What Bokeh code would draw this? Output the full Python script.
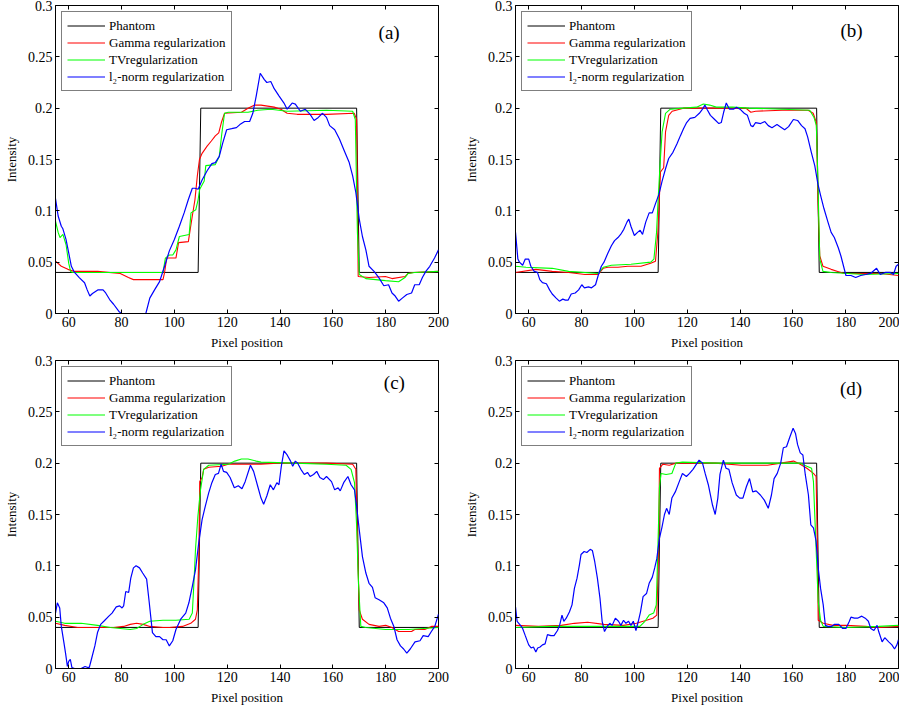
from bokeh.plotting import figure
from bokeh.models import Range1d, FixedTicker, LinearAxis, Legend, LegendItem, Label, CustomLabelingPolicy
from bokeh.layouts import gridplot
from bokeh.embed import file_html
from bokeh.resources import INLINE

# ---------------- data ----------------
x_ticks = [60, 80, 100, 120, 140, 160, 180, 200]
y_ticks = [0, 0.05, 0.1, 0.15, 0.2, 0.25, 0.3]
y_tick_labels = ["0", "0.05", "0.1", "0.15", "0.2", "0.25", "0.3"]
series_names = ["Phantom", "Gamma regularization", "TVregularization", "l\u2082-norm regularization"]
panel_tags = ["(a)", "(b)", "(c)", "(d)"]

phantom_x = [55, 109, 110, 169, 170, 200]
phantom_y = [0.04, 0.04, 0.2, 0.2, 0.04, 0.04]

# ---- panel (a)
a_blue_x = [55, 56, 57.2, 57.8, 59, 60, 61, 62.2, 64, 66, 67, 68, 69, 71, 73, 74, 75.5, 77, 79, 80, 82, 84.5, 87, 89.2, 90.7, 92.5, 94.4, 96.3, 98.1, 100, 101.9, 103.7, 105.3, 106.8, 107.8, 109, 110.5, 112.4, 114.2, 115.5, 117, 118.3, 119.8, 121.7, 123.5, 124.8, 126.6, 128.5, 129.7, 131, 132.5, 134, 135, 136.5, 137.8, 139.6, 141.5, 142.7, 144.6, 145.8, 147.7, 149.5, 151.4, 152.9, 154.5, 156.1, 157.6, 158.8, 160.7, 162.5, 164.4, 166.2, 167.5, 168.7, 170, 171.2, 172.5, 173.7, 175.6, 177.4, 179.3, 181.1, 182.4, 183.6, 184.9, 186.3, 188, 189.8, 191, 192.7, 193.9, 195.2, 196.7, 198.5, 200]
a_blue_y = [0.112, 0.095, 0.085, 0.0825, 0.072, 0.059, 0.046, 0.040, 0.035, 0.030, 0.023, 0.017, 0.0195, 0.023, 0.023, 0.020, 0.0136, 0.009, 0.002, 0.0, -0.008, -0.012, -0.008, 0.0, 0.015, 0.023, 0.031, 0.046, 0.061, 0.072, 0.085, 0.098, 0.111, 0.122, 0.122, 0.121, 0.130, 0.139, 0.146, 0.147, 0.153, 0.166, 0.179, 0.180, 0.181, 0.184, 0.187, 0.187, 0.195, 0.212, 0.234, 0.228, 0.225, 0.226, 0.219, 0.212, 0.205, 0.199, 0.205, 0.204, 0.197, 0.199, 0.194, 0.188, 0.191, 0.195, 0.191, 0.183, 0.179, 0.170, 0.158, 0.147, 0.134, 0.118, 0.092, 0.075, 0.062, 0.046, 0.041, 0.035, 0.027, 0.028, 0.020, 0.017, 0.012, 0.015, 0.0185, 0.020, 0.028, 0.028, 0.035, 0.041, 0.046, 0.054, 0.062]
a_red_x = [55, 57.2, 59.7, 62.2, 71, 79.5, 82.6, 84.5, 95.7, 96.3, 97.1, 100.6, 101.6, 105.3, 106, 106.8, 107.8, 108.7, 109.5, 110.5, 112.4, 114, 115.5, 116.8, 117.8, 119, 125.4, 127.9, 130.4, 132.8, 137.8, 140.3, 142.7, 146.5, 157.6, 168.1, 169, 169.6, 173.7, 179.9, 182.4, 187.3, 188.5, 190.4, 200]
a_red_y = [0.051, 0.046, 0.043, 0.041, 0.041, 0.039, 0.035, 0.033, 0.033, 0.040, 0.054, 0.054, 0.069, 0.070, 0.082, 0.095, 0.111, 0.134, 0.150, 0.156, 0.163, 0.168, 0.173, 0.176, 0.186, 0.195, 0.196, 0.200, 0.203, 0.203, 0.201, 0.199, 0.195, 0.194, 0.194, 0.195, 0.189, 0.036, 0.035, 0.036, 0.034, 0.036, 0.039, 0.040, 0.041]
a_green_x = [55, 56, 56.7, 57.8, 59, 60, 60.7, 61.6, 95.7, 96.6, 98.1, 99.4, 100.6, 101.9, 105.6, 106.3, 108.1, 109, 109.6, 111.3, 111.9, 115.5, 117, 118, 119, 120.4, 127.9, 131.6, 136.5, 142.7, 157.6, 167.5, 168.5, 169.3, 170, 172.5, 179.9, 184.9, 187.3, 188.5, 191, 200]
a_green_y = [0.090, 0.079, 0.074, 0.077, 0.067, 0.049, 0.041, 0.040, 0.040, 0.054, 0.057, 0.057, 0.062, 0.075, 0.077, 0.098, 0.101, 0.111, 0.121, 0.129, 0.144, 0.145, 0.153, 0.176, 0.195, 0.196, 0.196, 0.198, 0.199, 0.197, 0.198, 0.197, 0.189, 0.079, 0.038, 0.034, 0.032, 0.031, 0.035, 0.039, 0.040, 0.041]

# ---- panel (b)
b_blue_x = [55, 55.9, 56.5, 57.7, 58.7, 60, 60.8, 62.1, 63.3, 64.2, 65.2, 66.7, 67.9, 68.9, 70.4, 71.6, 72.9, 73.9, 74.9, 76.1, 77.6, 78.9, 80.1, 81.1, 82.6, 83.8, 85.3, 86.3, 87.5, 88.5, 90, 91.3, 92.5, 93.8, 94.8, 96, 97.2, 97.9, 98.7, 100, 101.2, 102.2, 103.1, 104.3, 105.6, 106.8, 108, 109.3, 110.5, 111.8, 113, 114.6, 116.1, 117.4, 118.6, 119.8, 121.1, 122.9, 124.6, 125.8, 126.7, 127.5, 128.8, 130.4, 132, 132.9, 133.8, 134.8, 136, 137.5, 138.7, 140, 141.6, 142.8, 144.1, 144.9, 145.9, 147.8, 149.4, 150.7, 152.1, 154, 155.2, 156.9, 158.4, 160.2, 161.8, 163.3, 164.6, 165.6, 167, 168.3, 169.5, 170.5, 171.8, 173.3, 174.5, 175.7, 177.2, 178.2, 179.2, 180.1, 182, 183.8, 185.7, 187.6, 189.4, 191.7, 193.1, 195, 196.9, 198.1, 199.1, 200]
b_blue_y = [0.079, 0.053, 0.050, 0.047, 0.053, 0.053, 0.046, 0.041, 0.040, 0.033, 0.030, 0.029, 0.023, 0.019, 0.015, 0.012, 0.014, 0.013, 0.013, 0.019, 0.020, 0.023, 0.028, 0.025, 0.026, 0.025, 0.028, 0.037, 0.046, 0.050, 0.059, 0.066, 0.071, 0.074, 0.077, 0.082, 0.089, 0.092, 0.085, 0.076, 0.079, 0.081, 0.077, 0.089, 0.098, 0.098, 0.107, 0.116, 0.129, 0.141, 0.151, 0.157, 0.165, 0.173, 0.180, 0.186, 0.190, 0.191, 0.195, 0.199, 0.203, 0.199, 0.193, 0.189, 0.185, 0.186, 0.196, 0.205, 0.199, 0.199, 0.201, 0.199, 0.195, 0.193, 0.183, 0.182, 0.186, 0.185, 0.187, 0.183, 0.181, 0.184, 0.182, 0.179, 0.182, 0.189, 0.188, 0.183, 0.180, 0.172, 0.157, 0.144, 0.126, 0.115, 0.102, 0.089, 0.079, 0.074, 0.064, 0.056, 0.046, 0.037, 0.037, 0.035, 0.037, 0.038, 0.039, 0.044, 0.038, 0.040, 0.040, 0.038, 0.046, 0.048]
b_red_x = [55, 62.7, 68.9, 75.1, 81.3, 86.3, 88.2, 90, 93.8, 97.5, 102.5, 106.2, 108, 108.9, 109.9, 111.1, 111.8, 113, 114.3, 118.6, 126.1, 131, 137.2, 142.2, 144.1, 145.9, 155.9, 165.8, 167.7, 168.9, 169.5, 170.2, 171.4, 174.5, 177, 179.5, 187, 193.1, 200]
b_red_y = [0.040, 0.043, 0.041, 0.040, 0.038, 0.038, 0.044, 0.045, 0.045, 0.046, 0.046, 0.049, 0.051, 0.079, 0.138, 0.142, 0.177, 0.193, 0.197, 0.200, 0.200, 0.200, 0.200, 0.200, 0.196, 0.197, 0.198, 0.198, 0.195, 0.186, 0.111, 0.056, 0.046, 0.043, 0.041, 0.039, 0.039, 0.039, 0.037]
b_green_x = [55, 59, 68.9, 75.1, 86.3, 88.2, 91.3, 98.7, 106.2, 107.4, 108.4, 109, 109.7, 110.5, 111.8, 113.6, 118.6, 123.6, 126.1, 128.5, 131, 137.2, 143.4, 155.9, 166.4, 168, 168.9, 169.5, 170.2, 171.4, 174.5, 187, 200]
b_green_y = [0.046, 0.045, 0.044, 0.041, 0.039, 0.045, 0.047, 0.048, 0.050, 0.053, 0.079, 0.111, 0.144, 0.177, 0.195, 0.199, 0.200, 0.201, 0.204, 0.203, 0.201, 0.201, 0.200, 0.199, 0.198, 0.191, 0.183, 0.128, 0.053, 0.041, 0.040, 0.038, 0.039]

# ---- panel (c)
c_blue_x = [55, 55.7, 56.6, 57.2, 58.2, 58.8, 59.5, 60, 60.6, 61.2, 62.2, 64.7, 66.2, 67.2, 67.8, 68.6, 69.9, 70.9, 72.1, 73.3, 75.2, 76.4, 78, 79.3, 80.2, 80.8, 81.6, 82.7, 83.5, 84.5, 85.5, 86.8, 88, 89.5, 90.5, 91.7, 93, 94.4, 95.7, 96.9, 98.1, 99.4, 100.6, 102.4, 104.3, 105.5, 106.8, 108, 109.2, 110.5, 111.7, 113, 114.2, 115.5, 116.7, 117.7, 118.6, 119.8, 121.1, 122.7, 124.2, 125.6, 126.8, 128.8, 130, 131.5, 132.8, 133.8, 135, 136.3, 137.5, 138.8, 139.6, 140.5, 141.5, 142.7, 144, 144.8, 145.8, 146.7, 147.9, 149.2, 150.4, 151.4, 152.7, 153.9, 155.1, 156.4, 157.6, 159.5, 160.7, 162, 162.8, 164.1, 165.7, 166.9, 168.2, 169, 170, 171.2, 172.5, 173.7, 175, 176, 177.5, 179.3, 180.6, 181.8, 183.1, 184.3, 185.6, 186.8, 188, 189.3, 191.1, 193, 194.2, 196.1, 197.3, 198.6, 200]
c_blue_y = [0.054, 0.064, 0.059, 0.041, 0.025, 0.015, 0.002, 0.007, 0.009, 0.001, 0.0, 0.0, 0.002, 0.001, 0.001, 0.009, 0.022, 0.035, 0.043, 0.046, 0.051, 0.054, 0.060, 0.061, 0.059, 0.061, 0.075, 0.074, 0.088, 0.098, 0.100, 0.098, 0.093, 0.087, 0.064, 0.035, 0.031, 0.031, 0.028, 0.028, 0.022, 0.027, 0.038, 0.048, 0.054, 0.064, 0.080, 0.096, 0.122, 0.145, 0.158, 0.171, 0.181, 0.189, 0.190, 0.199, 0.192, 0.191, 0.186, 0.176, 0.178, 0.175, 0.182, 0.198, 0.192, 0.178, 0.166, 0.160, 0.168, 0.179, 0.174, 0.181, 0.179, 0.197, 0.212, 0.208, 0.202, 0.197, 0.202, 0.200, 0.194, 0.189, 0.191, 0.187, 0.189, 0.192, 0.186, 0.184, 0.187, 0.182, 0.174, 0.176, 0.173, 0.181, 0.187, 0.179, 0.174, 0.158, 0.135, 0.109, 0.093, 0.083, 0.079, 0.069, 0.067, 0.064, 0.059, 0.049, 0.041, 0.028, 0.022, 0.019, 0.015, 0.019, 0.026, 0.027, 0.032, 0.031, 0.036, 0.041, 0.053]
c_red_x = [55, 58.5, 63.4, 70.9, 77.1, 80.8, 83.3, 85.7, 88.2, 90.7, 95.7, 98.1, 103.1, 106.2, 108, 108.7, 109.3, 109.6, 110.5, 111.1, 113, 117.9, 120.4, 132.8, 139, 157.6, 167.5, 168.7, 169.4, 170, 171.2, 173.7, 177.5, 180, 182.4, 184.9, 187.3, 189.8, 191, 194.8, 197.3, 200]
c_red_y = [0.044, 0.042, 0.040, 0.040, 0.040, 0.041, 0.043, 0.044, 0.043, 0.041, 0.040, 0.040, 0.041, 0.044, 0.048, 0.057, 0.116, 0.182, 0.186, 0.194, 0.196, 0.197, 0.199, 0.199, 0.200, 0.200, 0.199, 0.194, 0.116, 0.057, 0.048, 0.043, 0.041, 0.042, 0.040, 0.036, 0.036, 0.036, 0.038, 0.038, 0.041, 0.041]
c_green_x = [55, 58.5, 64.7, 70.9, 75.8, 83.3, 85.7, 88.2, 90.7, 95.7, 100.6, 105.6, 106.8, 107.4, 108, 108.9, 109.9, 111.1, 113, 120.4, 122.9, 125.4, 127.9, 131, 132.8, 145.2, 157.6, 165, 166.9, 168.2, 169, 169.7, 170.6, 172.5, 180, 188.6, 200]
c_green_y = [0.046, 0.044, 0.044, 0.042, 0.040, 0.038, 0.039, 0.043, 0.046, 0.047, 0.047, 0.048, 0.054, 0.083, 0.116, 0.148, 0.174, 0.194, 0.198, 0.199, 0.202, 0.204, 0.204, 0.202, 0.201, 0.200, 0.199, 0.198, 0.194, 0.181, 0.139, 0.083, 0.041, 0.040, 0.038, 0.038, 0.040]

# ---- panel (d)
d_blue_x = [55, 55.6, 56.9, 57.7, 58.7, 60, 60.9, 61.8, 62.7, 63.4, 64.3, 65.2, 66.2, 67.1, 68.4, 69.6, 70.9, 71.7, 72.6, 73.3, 74.2, 75.4, 76.4, 77.3, 78.3, 79.2, 79.8, 81, 82, 83.3, 84.1, 85, 86, 87, 87.8, 88.7, 89.7, 90.7, 91.6, 92.8, 94, 94.9, 95.9, 96.8, 97.8, 98.7, 99.6, 100.6, 101.5, 102.3, 103.3, 104.6, 105.6, 106.8, 107.7, 108.5, 109.5, 110.4, 111.4, 112.2, 113.2, 114.2, 115.5, 117, 118.2, 119.7, 120.9, 122.2, 123.5, 124.5, 125.8, 126.8, 128, 129.6, 130.6, 131.6, 132.4, 133.7, 134.7, 135.8, 137, 138.6, 139.9, 141.1, 142.4, 143.6, 144.8, 146.1, 147.7, 149.2, 150.7, 151.9, 152.9, 154.1, 155.4, 156.4, 157.6, 158.8, 160.1, 161, 161.8, 162.8, 163.8, 164.7, 165.9, 166.8, 167.8, 168.8, 169.6, 170.5, 171.5, 172.3, 173.3, 174.6, 175.8, 177.4, 178.9, 180.1, 181.4, 182, 183.3, 184.5, 186.1, 187.4, 188.6, 189.5, 190.7, 191.9, 192.5, 193.8, 194.8, 196.3, 197.5, 198.5, 199.4, 200]
d_blue_y = [0.060, 0.046, 0.042, 0.039, 0.032, 0.023, 0.020, 0.021, 0.016, 0.020, 0.021, 0.023, 0.024, 0.033, 0.032, 0.032, 0.037, 0.042, 0.052, 0.046, 0.049, 0.055, 0.062, 0.078, 0.088, 0.101, 0.111, 0.114, 0.113, 0.116, 0.115, 0.104, 0.088, 0.068, 0.046, 0.036, 0.041, 0.044, 0.042, 0.049, 0.046, 0.042, 0.047, 0.044, 0.046, 0.042, 0.046, 0.037, 0.046, 0.055, 0.070, 0.073, 0.083, 0.089, 0.098, 0.107, 0.127, 0.137, 0.150, 0.156, 0.150, 0.166, 0.172, 0.182, 0.190, 0.187, 0.190, 0.194, 0.199, 0.203, 0.200, 0.190, 0.179, 0.159, 0.150, 0.166, 0.189, 0.203, 0.195, 0.194, 0.181, 0.169, 0.166, 0.166, 0.177, 0.185, 0.172, 0.173, 0.169, 0.164, 0.156, 0.169, 0.185, 0.190, 0.200, 0.215, 0.216, 0.225, 0.234, 0.229, 0.218, 0.210, 0.208, 0.189, 0.169, 0.140, 0.137, 0.124, 0.098, 0.078, 0.062, 0.042, 0.041, 0.041, 0.043, 0.043, 0.039, 0.039, 0.046, 0.050, 0.049, 0.049, 0.051, 0.049, 0.046, 0.039, 0.037, 0.042, 0.036, 0.026, 0.030, 0.026, 0.023, 0.019, 0.023, 0.028]
d_red_x = [55, 63.7, 72.3, 77.3, 82.3, 88.5, 95.9, 100.8, 104.6, 107, 108.5, 109.2, 109.5, 110.8, 113.2, 115.7, 124.4, 130.6, 140.5, 150.4, 155.4, 160.3, 162.8, 165.3, 167.8, 168.8, 169.3, 169.6, 171.5, 175.2, 180.1, 187.5, 192.5, 200]
d_red_y = [0.042, 0.041, 0.042, 0.044, 0.045, 0.043, 0.042, 0.044, 0.047, 0.049, 0.052, 0.117, 0.195, 0.199, 0.198, 0.200, 0.200, 0.200, 0.198, 0.198, 0.200, 0.202, 0.199, 0.195, 0.190, 0.187, 0.117, 0.047, 0.044, 0.042, 0.042, 0.041, 0.040, 0.041]
d_green_x = [55, 68.6, 81, 93.4, 102.1, 104, 105.6, 107.3, 108.3, 108.9, 109.5, 110.1, 112, 114.2, 115.7, 118.2, 130.6, 143, 155.4, 162.8, 165.3, 167.1, 167.8, 168.8, 169.6, 170.5, 171.5, 180.1, 192.5, 200]
d_green_y = [0.040, 0.041, 0.041, 0.041, 0.041, 0.046, 0.052, 0.054, 0.062, 0.117, 0.176, 0.190, 0.189, 0.190, 0.200, 0.201, 0.200, 0.200, 0.200, 0.200, 0.197, 0.195, 0.182, 0.117, 0.065, 0.047, 0.041, 0.040, 0.041, 0.042]

# panel tag positions (data coords)
tag_x = [181.3, 182.2, 183.3, 182.0]
tag_y = [0.2737, 0.2756, 0.2786, 0.2727]

FONT = "Liberation Serif"
COLORS = ["#000000", "#ff0000", "#00ff00", "#0000ff"]


def tick_only_axis(ticks):
    return LinearAxis(ticker=FixedTicker(ticks=ticks), major_label_text_font_size="0px",
                      major_label_policy=CustomLabelingPolicy(code="return new Set()"),
                      major_tick_in=4, major_tick_out=0, minor_tick_line_color=None,
                      axis_line_color=None, major_label_standoff=0)


def make_panel(idx, red, green, blue, width, height, b_right, b_top, b_bottom):
    p = figure(width=width, height=height, x_range=Range1d(55, 200), y_range=Range1d(0, 0.3),
               output_backend="svg", toolbar_location=None,
               min_border_left=49, min_border_right=b_right, min_border_top=b_top,
               min_border_bottom=b_bottom)
    p.xgrid.visible = False
    p.ygrid.visible = False
    p.outline_line_color = "black"
    p.outline_line_width = 1
    p.background_fill_color = "white"
    p.border_fill_color = "white"

    for ax in (p.xaxis[0], p.yaxis[0]):
        ax.major_tick_in = 4
        ax.major_tick_out = 0
        ax.minor_tick_line_color = None
        ax.axis_line_color = "black"
        ax.major_tick_line_color = "black"
        ax.major_label_text_font = FONT
        ax.major_label_text_font_size = "14px"
        ax.major_label_text_color = "black"
        ax.major_label_standoff = 3
        ax.axis_label_text_font = FONT
        ax.axis_label_text_font_size = "13px"
        ax.axis_label_text_font_style = "normal"
        ax.axis_label_text_color = "black"
    p.xaxis[0].ticker = FixedTicker(ticks=x_ticks)
    p.yaxis[0].ticker = FixedTicker(ticks=y_ticks)
    p.yaxis[0].major_label_overrides = {t: s for t, s in zip(y_ticks, y_tick_labels)}
    p.xaxis[0].axis_label = "Pixel position"
    p.yaxis[0].axis_label = "Intensity"
    p.xaxis[0].major_label_standoff = 3
    p.xaxis[0].axis_label_standoff = 5
    p.yaxis[0].axis_label_standoff = 6

    p.add_layout(tick_only_axis(x_ticks), "above")
    p.add_layout(tick_only_axis(y_ticks), "right")

    r0 = p.line(phantom_x, phantom_y, line_color=COLORS[0], line_width=1)
    r1 = p.line(red[0], red[1], line_color=COLORS[1], line_width=1.1)
    r2 = p.line(green[0], green[1], line_color=COLORS[2], line_width=1.1)
    r3 = p.line(blue[0], blue[1], line_color=COLORS[3], line_width=1.2)

    legend = Legend(items=[LegendItem(label=n, renderers=[r]) for n, r in zip(series_names, [r0, r1, r2, r3])],
                    location="top_left", margin=6, padding=5, spacing=0,
                    glyph_width=38, glyph_height=17, label_height=17, label_standoff=4,
                    label_text_font=FONT, label_text_font_size="13px", label_text_color="black",
                    border_line_color="black", border_line_width=1.5, background_fill_alpha=1)
    p.add_layout(legend)

    p.add_layout(Label(x=tag_x[idx], y=tag_y[idx], text=panel_tags[idx], text_font=FONT,
                       text_font_size="19px", text_align="center", text_baseline="middle",
                       text_color="black"))
    return p


pa = make_panel(0, (a_red_x, a_red_y), (a_green_x, a_green_y), (a_blue_x, a_blue_y), 460, 353, 22, 5, 40)
pb = make_panel(1, (b_red_x, b_red_y), (b_green_x, b_green_y), (b_blue_x, b_blue_y), 439, 353, 1, 5, 40)
pc = make_panel(2, (c_red_x, c_red_y), (c_green_x, c_green_y), (c_blue_x, c_blue_y), 460, 354, 22, 7, 39)
pd = make_panel(3, (d_red_x, d_red_y), (d_green_x, d_green_y), (d_blue_x, d_blue_y), 439, 354, 1, 7, 39)

grid = gridplot([[pa, pb], [pc, pd]], toolbar_location=None)

open("out.html", "w").write(file_html(grid, INLINE))
